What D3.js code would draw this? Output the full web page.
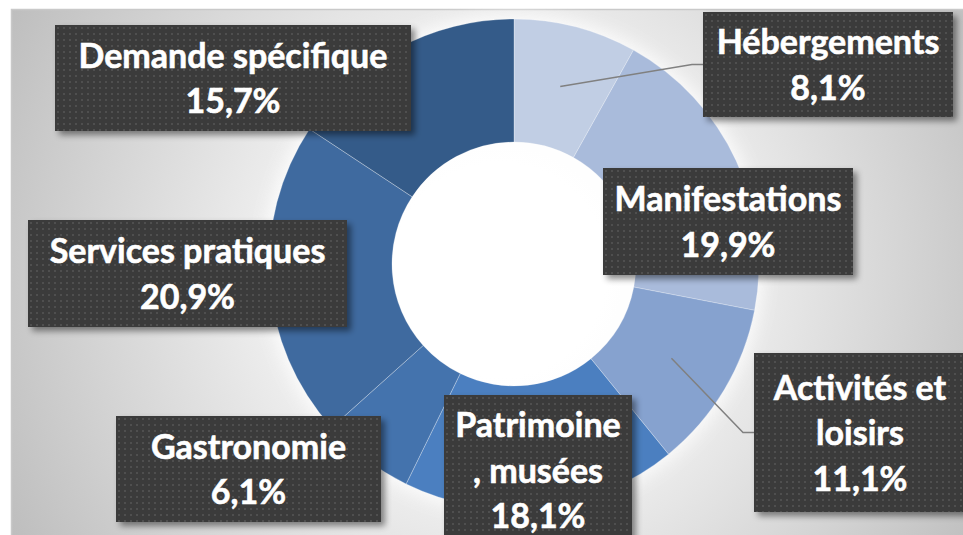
<!DOCTYPE html>
<html>
<head>
<meta charset="utf-8">
<script src="https://cdn.jsdelivr.net/npm/d3@7"></script>
<style>
  body { margin: 0; background: #fff; }
  svg { display: block; }
</style>
</head>
<body>
<svg id="chart" width="963" height="535"></svg>
<script>
// data, clockwise from 12 o'clock
const categories = ['Hébergements', 'Manifestations', 'Activités et loisirs', 'Patrimoine, musées', 'Gastronomie', 'Services pratiques', 'Demande spécifique']
const shares = [8.1, 19.9, 11.1, 18.1, 6.1, 20.9, 15.7]
const labelLines = [
    ['Hébergements'],
    ['Manifestations'],
    ['Activités et', 'loisirs'],
    ['Patrimoine', ', musées'],
    ['Gastronomie'],
    ['Services pratiques'],
    ['Demande spécifique']
]
const colors = ['#c1cee4', '#a9bbdb', '#86a2cf', '#4b7fc0', '#4473ad', '#3f6a9f', '#345b89']

// where the label boxes were dragged to (offset from donut centre)
const boxes = [
    {x: 189, y: -252, w: 250, h: 105, leader: true},
    {x: 89, y: -96, w: 250, h: 107},
    {x: 240, y: 89, w: 212, h: 159, leader: true},
    {x: -70, y: 131, w: 188, h: 150},
    {x: -398, y: 152, w: 265, h: 106},
    {x: -486, y: -44, w: 319, h: 107},
    {x: -459, y: -239, w: 356, h: 106}
]

let svg = d3.select('#chart')
const cx = 514, cy = 264
const outerR = 245, innerR = 122

let defs = svg.append('defs')

let grad = defs.append('radialGradient')
    .attr('id', 'bg')
    .attr('gradientUnits', 'userSpaceOnUse')
    .attr('cx', 500).attr('cy', 270).attr('r', 560)
grad.append('stop').attr('offset', 0).attr('stop-color', '#ffffff')
grad.append('stop').attr('offset', 0.35).attr('stop-color', '#f4f4f4')
grad.append('stop').attr('offset', 1).attr('stop-color', '#bdbdbd')

let pat = defs.append('pattern')
    .attr('id', 'dots')
    .attr('width', 6).attr('height', 6)
    .attr('patternUnits', 'userSpaceOnUse')
pat.append('rect').attr('width', 6).attr('height', 6).attr('fill', '#3b3b3b')
pat.append('rect').attr('x', 2).attr('y', 2).attr('width', 2).attr('height', 2).attr('fill', '#4f4f4f')

let shadow = defs.append('filter').attr('id', 'shadow')
    .attr('x', '-10%').attr('y', '-10%').attr('width', '130%').attr('height', '130%')
shadow.append('feDropShadow')
    .attr('dx', 4).attr('dy', 4).attr('stdDeviation', 3)
    .attr('flood-color', '#000').attr('flood-opacity', 0.45)

let glow = defs.append('filter').attr('id', 'glow')
    .attr('x', '-20%').attr('y', '-20%').attr('width', '140%').attr('height', '140%')
glow.append('feGaussianBlur').attr('stdDeviation', 9)

// chart area
svg.append('rect')
    .attr('x', 11.5).attr('y', 9.5)
    .attr('width', 960).attr('height', 540)
    .attr('fill', 'url(#bg)')
    .attr('stroke', '#c9c9c9')
    .attr('stroke-width', 1.5)

let g = svg.append('g').attr('transform', `translate(${cx}, ${cy})`)

g.append('circle')
    .attr('r', outerR + 4)
    .attr('fill', '#ffffff')
    .attr('opacity', 0.85)
    .attr('filter', 'url(#glow)')

let pie = d3.pie().sort(null).value(d => d.value)
let arcs = pie(categories.map((c, i) => ({name: c, value: shares[i], idx: i})))
let arc = d3.arc().innerRadius(innerR).outerRadius(outerR)

g.selectAll('path.slice')
    .data(arcs)
    .enter()
    .append('path')
    .attr('class', 'slice')
    .attr('d', arc)
    .attr('fill', d => colors[d.data.idx])
    .attr('stroke', 'rgba(255,255,255,0.35)')
    .attr('stroke-width', 0.8)

g.append('circle').attr('r', innerR - 0.5).attr('fill', '#ffffff').attr('opacity', 0.6)

// leader lines
arcs.forEach(d => {
    let b = boxes[d.data.idx]
    if (!b.leader) return
    let c = arc.centroid(d)
    let ly = b.y + b.h * 0.5
    let pts = [c, [b.x - 11, ly], [b.x, ly]]
    g.append('path')
        .attr('d', d3.line()(pts))
        .attr('fill', 'none')
        .attr('stroke', '#808080')
        .attr('stroke-width', 1.5)
})

// label boxes
let fmt = v => d3.format('.1f')(v).replace('.', ',') + '%'
let label = g.selectAll('g.lbl')
    .data(arcs)
    .enter()
    .append('g')
    .attr('class', 'lbl')
    .attr('transform', d => `translate(${boxes[d.data.idx].x}, ${boxes[d.data.idx].y})`)

label.append('rect')
    .attr('width', d => boxes[d.data.idx].w)
    .attr('height', d => boxes[d.data.idx].h)
    .attr('fill', 'url(#dots)')
    .attr('filter', 'url(#shadow)')

label.each(function(d) {
    let b = boxes[d.data.idx]
    let lines = labelLines[d.data.idx].concat([fmt(d.data.value)])
    let lh = 45.5
    let first = b.h / 2 - (lines.length - 1) * lh / 2 + 12.5
    let t = d3.select(this).append('text')
        .attr('text-anchor', 'middle')
        .attr('fill', '#ffffff')
        .style('font-family', 'Lato, "Open Sans", sans-serif')
        .style('font-weight', 'bold')
        .style('font-size', '34px')
        .style('stroke', '#ffffff')
        .style('stroke-width', 0.6)
    lines.forEach((s, k) => {
        t.append('tspan')
            .attr('x', b.w / 2)
            .attr('y', first + lh * k)
            .text(s)
    })
})
</script>
</body>
</html>
